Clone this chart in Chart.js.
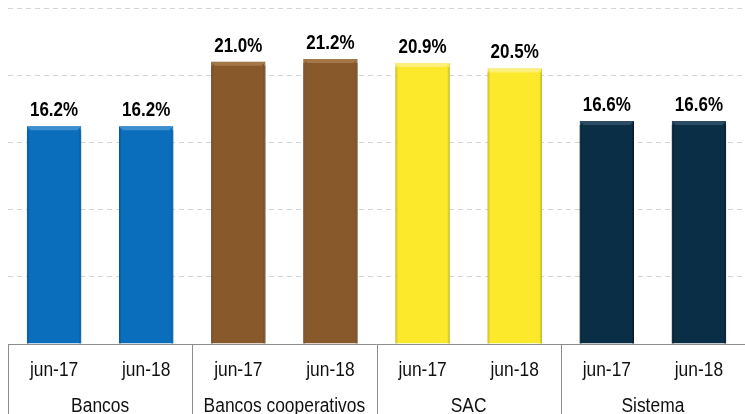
<!DOCTYPE html>
<html>
<head>
<meta charset="utf-8">
<script src="https://cdn.jsdelivr.net/npm/chart.js"></script>
<style>
  html, body { margin: 0; padding: 0; background: #fff; }
  #wrap { width: 745px; height: 414px; position: relative; }
</style>
</head>
<body>
<div id="wrap"><canvas id="chart"></canvas></div>
<script>
// groups and their periods
const groups = ['Bancos', 'Bancos cooperativos', 'SAC', 'Sistema'];
const periods = ['jun-17', 'jun-18'];
const values = [16.2, 16.2, 21.0, 21.2, 20.9, 20.5, 16.6, 16.6];
const groupColors = ['#0a6ebd', '#87592b', '#fce92c', '#0b2e47'];
const groupEdges = ['#075a9c', '#6e4620', '#cbb718', '#061d2e'];
const groupLights = ['#3d8fd0', '#a47648', '#fdf07a', '#2c4c66'];

const labels = [];
groups.forEach(g => periods.forEach(p => labels.push(p)));
const colorOf = (arr) => values.map((v, i) => arr[Math.floor(i / periods.length)]);
const barColors = colorOf(groupColors);
const edgeColors = colorOf(groupEdges);
const lightColors = colorOf(groupLights);

const labelFont = '"Liberation Sans", Arial, sans-serif';

// the original uses a narrow font, so squeeze the text horizontally
function narrowText(ctx, text, x, y, squeeze) {
  ctx.save();
  ctx.translate(x, y);
  ctx.scale(squeeze, 1);
  ctx.fillText(text, 0, 0);
  ctx.restore();
}

// little bevel on top of every bar, like the office-style original
const bevelPlugin = {
  id: 'bevel',
  afterDatasetDraw(chart) {
    const ctx = chart.ctx;
    const meta = chart.getDatasetMeta(0);
    ctx.save();
    meta.data.forEach((bar, i) => {
      const left = bar.x - bar.width / 2, right = bar.x + bar.width / 2;
      const top = bar.y, b = 4;
      ctx.fillStyle = lightColors[i];
      ctx.beginPath();
      ctx.moveTo(left, top);
      ctx.lineTo(right, top);
      ctx.lineTo(right - b, top + b);
      ctx.lineTo(left + b, top + b);
      ctx.closePath();
      ctx.fill();
      ctx.fillStyle = edgeColors[i];
      ctx.globalAlpha = 0.6;
      ctx.fillRect(left, top + b, 2, bar.base - top - b);
      ctx.fillRect(right - 2, top + b, 2, bar.base - top - b);
      ctx.globalAlpha = 1;
    });
    ctx.restore();
  }
};

// draws the value labels, the axis line and the two-level category labels
const extrasPlugin = {
  id: 'extras',
  afterDatasetsDraw(chart) {
    const ctx = chart.ctx;
    const meta = chart.getDatasetMeta(0);
    const area = chart.chartArea;
    const xScale = chart.scales.x;

    ctx.save();
    ctx.fillStyle = '#000';
    ctx.textAlign = 'center';
    ctx.textBaseline = 'alphabetic';
    ctx.font = 'bold 20px ' + labelFont;
    meta.data.forEach((bar, i) => {
      narrowText(ctx, values[i].toFixed(1) + '%', bar.x, bar.y - 10, 0.85);
    });

    // axis line + separators
    ctx.strokeStyle = '#8c8c8c';
    ctx.lineWidth = 1;
    ctx.beginPath();
    ctx.moveTo(area.left, Math.round(area.bottom) + 0.5);
    ctx.lineTo(area.right, Math.round(area.bottom) + 0.5);
    const n = periods.length;
    for (let g = 0; g < groups.length; g++) {
      let x;
      if (g === 0) x = area.left;
      else x = (xScale.getPixelForValue(g * n - 1) + xScale.getPixelForValue(g * n)) / 2;
      x = Math.round(x) + 0.5;
      ctx.moveTo(x, area.bottom);
      ctx.lineTo(x, chart.height);
    }
    ctx.stroke();

    ctx.fillStyle = '#111';
    ctx.textBaseline = 'middle';
    ctx.font = '20px ' + labelFont;
    labels.forEach((l, i) => {
      narrowText(ctx, l, xScale.getPixelForValue(i), area.bottom + 26, 0.87);
    });
    groups.forEach((g, gi) => {
      const x = (xScale.getPixelForValue(gi * n) + xScale.getPixelForValue(gi * n + n - 1)) / 2;
      narrowText(ctx, g, x, area.bottom + 62, 0.87);
    });
    ctx.restore();
  }
};

new Chart(document.getElementById('chart'), {
  type: 'bar',
  data: {
    labels: labels,
    datasets: [{
      data: values,
      backgroundColor: barColors,
      borderColor: edgeColors,
      borderWidth: 1,
      barPercentage: 0.59,
      categoryPercentage: 1.0
    }]
  },
  options: {
    responsive: true,
    maintainAspectRatio: false,
    animation: false,
    layout: { padding: { left: 8, right: 0, top: 8, bottom: 62 } },
    plugins: {
      legend: { display: false },
      tooltip: { enabled: false }
    },
    scales: {
      x: {
        grid: { display: false },
        border: { display: false },
        ticks: { display: false }
      },
      y: {
        min: 0,
        max: 25,
        ticks: { display: false, stepSize: 5 },
        border: { display: false, dash: [5, 4] },
        grid: { color: '#d4d4d4', lineWidth: 1, drawTicks: false },
        afterFit(scale) { scale.width = 0; }
      }
    }
  },
  plugins: [bevelPlugin, extrasPlugin]
});
</script>
</body>
</html>
